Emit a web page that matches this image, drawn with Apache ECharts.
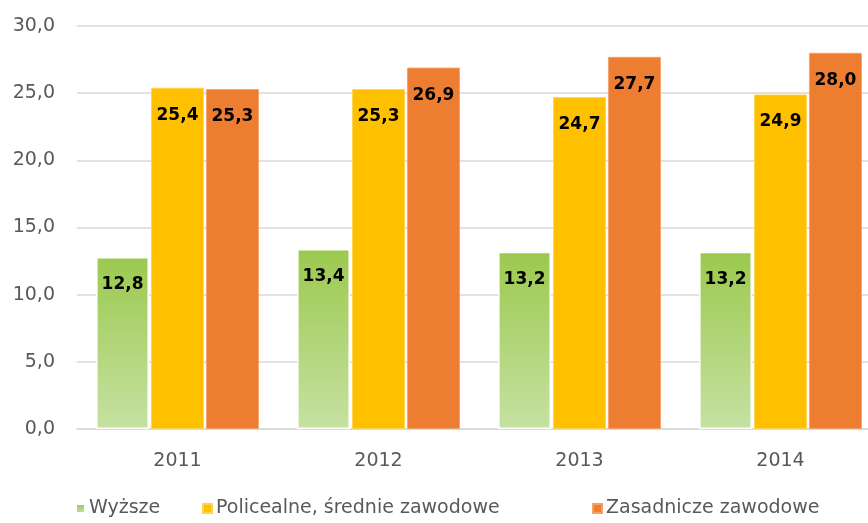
<!DOCTYPE html>
<html><head><meta charset="utf-8">
<script src="https://cdn.jsdelivr.net/npm/echarts@6/dist/echarts.min.js"></script>
<style>html,body{margin:0;padding:0;background:#fff}#c{width:868px;height:523px}</style>
</head><body><div id="c"></div>
<script>
const categories = ['2011','2012','2013','2014'];
const seriesNames = ['Wyższe','Policealne, średnie zawodowe','Zasadnicze zawodowe'];
const wyzsze = [12.8, 13.4, 13.2, 13.2];
const policealne = [25.4, 25.3, 24.7, 24.9];
const zasadnicze = [25.3, 26.9, 27.7, 28.0];

const FONT = '"DejaVu Sans", sans-serif';
const fmt = v => v.toFixed(1).replace('.', ',');
const label = {
  show: true, position: 'insideTop', distance: 19,
  color: '#000', fontWeight: 'bold', fontSize: 17, fontFamily: FONT,
  formatter: p => fmt(p.value)
};
const legendBase = {
  bottom: 0, itemWidth: 9, itemHeight: 9, icon: 'rect',
  textStyle: { color: '#595959', fontSize: 19, fontFamily: FONT, padding: [0,0,0,-1] }
};
const chart = echarts.init(document.getElementById('c'));
chart.setOption({
  animation: false,
  grid: { left: 77, width: 804, top: 26, bottom: 94, outerBoundsMode: 'none', containLabel: false },
  legend: [
    Object.assign({ left: 70, data: [seriesNames[0]] }, legendBase),
    Object.assign({ left: 197, data: [seriesNames[1]] }, legendBase),
    Object.assign({ left: 587, data: [seriesNames[2]] }, legendBase)
  ],
  xAxis: {
    type: 'category', data: categories,
    axisLine: { lineStyle: { color: '#d9d9d9', width: 1.5 } },
    axisTick: { show: false },
    axisLabel: { color: '#595959', fontSize: 19, fontFamily: FONT, margin: 23 }
  },
  yAxis: {
    type: 'value', min: 0, max: 30, interval: 5,
    axisLabel: { color: '#595959', fontSize: 19, fontFamily: FONT, margin: 22, formatter: v => fmt(v) },
    splitLine: { lineStyle: { color: '#d9d9d9', width: 1.5 } },
    axisLine: { show: false }, axisTick: { show: false }
  },
  series: [
    { name: seriesNames[0], type: 'bar', data: wyzsze, barCategoryGap: '19%', barGap: '4%',
      itemStyle: { color: new echarts.graphic.LinearGradient(0,0,0,1,[{offset:0,color:'#9BC94E'},{offset:1,color:'#C6E1A2'}]),
        borderColor: '#fff', borderWidth: 1.5 },
      label },
    { name: seriesNames[1], type: 'bar', data: policealne,
      itemStyle: { color: '#FFC000', borderColor: '#FFD34D', borderWidth: 0.8 }, label },
    { name: seriesNames[2], type: 'bar', data: zasadnicze,
      itemStyle: { color: '#ED7D31', borderColor: '#F3A06A', borderWidth: 0.8 }, label }
  ]
});
</script></body></html>
